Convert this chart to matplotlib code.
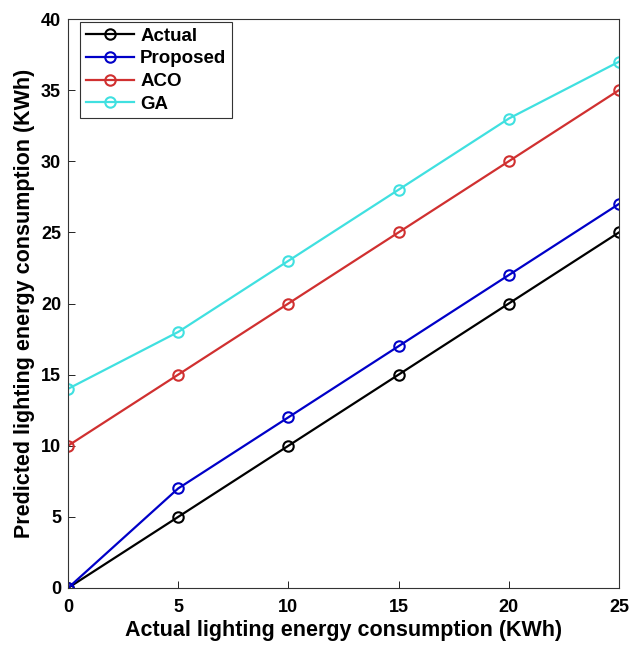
import matplotlib
matplotlib.use("Agg")
import matplotlib.pyplot as plt

x_vals = [0, 5, 10, 15, 20, 25]
actual = [0, 5, 10, 15, 20, 25]
proposed = [0, 7, 12, 17, 22, 27]
aco = [10, 15, 20, 25, 30, 35]
ga = [14, 18, 23, 28, 33, 37]

series = [
    ("Actual", actual, "black"),
    ("Proposed", proposed, "#0000c8"),
    ("ACO", aco, "#d03030"),
    ("GA", ga, "#40e0e0"),
]

plt.rcParams["font.family"] = ["Liberation Sans", "DejaVu Sans"]
plt.rcParams["font.weight"] = "bold"

fig = plt.figure(figsize=(6.31, 6.50), dpi=100)
ax = fig.add_axes([68 / 631, 62 / 650, 551 / 631, 569 / 650])

for name, vals, col in series:
    ax.plot(x_vals, vals, color=col, lw=1.6, marker="o", ms=7.5,
            mfc="none", mec=col, mew=1.5, label=name)

ax.set_xlim(0, 25)
ax.set_ylim(0, 40)
ax.set_xticks(range(0, 26, 5))
ax.set_yticks(range(0, 41, 5))
ax.tick_params(direction="in", labelsize=13, length=5, width=0.6)
ax.tick_params(axis="x", pad=8)
ax.tick_params(axis="y", pad=5)
for lab in ax.get_xticklabels() + ax.get_yticklabels():
    lab.set_fontweight("bold")
for sp in ax.spines.values():
    sp.set_linewidth(0.8)
    sp.set_color("#333333")

ax.set_xlabel("Actual lighting energy consumption (KWh)", fontsize=15.5,
              fontweight="bold", labelpad=3)
ax.set_ylabel("Predicted lighting energy consumption (KWh)", fontsize=15.5,
              fontweight="bold", labelpad=4)

leg = ax.legend(loc="upper left", prop={"weight": "bold", "size": 13.5},
                fancybox=False, edgecolor="#333333", framealpha=1,
                handlelength=2.6, borderpad=0.3, labelspacing=0.3,
                handletextpad=0.3, borderaxespad=0, bbox_to_anchor=(0.022, 0.995))
leg.get_frame().set_linewidth(0.8)

fig.savefig("out.png", dpi=100)
